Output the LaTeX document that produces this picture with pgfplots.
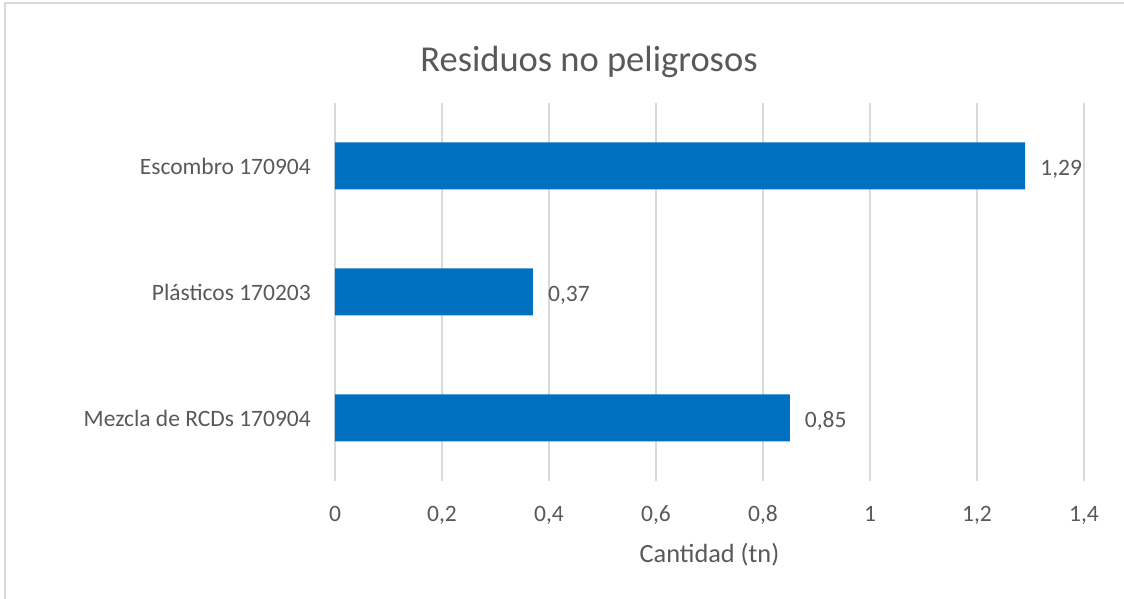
\documentclass[border=0pt]{standalone}
\usepackage{pgfplots}
\pgfplotsset{compat=1.18}
\usepackage{fontspec}
\setmainfont{Carlito}
\definecolor{barblue}{HTML}{0070C0}
\definecolor{txtgray}{HTML}{595959}
\definecolor{gridgray}{HTML}{D9D9D9}
\begin{document}
\begin{tikzpicture}
\begin{axis}[
 name=ax, at={(0,0)}, anchor=south west,
 scale only axis, width=749pt, height=378pt,
 xbar, bar width=47pt,
 xmin=0, xmax=1.4, ymin=-0.5, ymax=2.5,
 xtick={0,0.2,0.4,0.6,0.8,1,1.2,1.4},
 ytick={0,1,2},
 yticklabels={Mezcla de RCDs 170904, Plásticos 170203, Escombro 170904},
 xmajorgrids, grid style={gridgray, line width=1.3pt},
 axis line style={draw=none},
 major tick length=0pt,
 tick label style={font=\fontsize{23.5}{28}\selectfont, text=txtgray},
 /pgf/number format/use comma,
 /pgf/number format/assume math mode=true,
 xticklabel style={anchor=base, yshift=-41pt, inner sep=0pt},
 yticklabel style={anchor=east, xshift=-24pt, inner sep=0pt},
 xlabel={Cantidad (tn)},
 xlabel style={font=\fontsize{26.3}{30}\selectfont, text=txtgray, at={(axis description cs:0.5,0)}, anchor=base, yshift=-81pt, inner sep=0pt},
 point meta=x,
 nodes near coords={\pgfmathprintnumber[fixed, fixed zerofill, precision=2, use comma, assume math mode=true]{\pgfplotspointmeta}},
 nodes near coords style={font=\fontsize{23.5}{28}\selectfont, text=txtgray, anchor=west, inner sep=0pt, xshift=15pt, yshift=-3pt},
 clip=false,
]
\addplot[fill=barblue, draw=none] coordinates {(0.85,0) (0.37,1) (1.29,2)};
\end{axis}
\node[anchor=base, font=\fontsize{36.5}{40}\selectfont, text=txtgray, inner sep=0pt] at ([xshift=254pt, yshift=409pt]ax.south west) {Residuos no peligrosos};
\path[use as bounding box] ([xshift=-335pt,yshift=-118pt]ax.south west) rectangle ([xshift=789pt,yshift=481pt]ax.south west);
\draw[gridgray, line width=1.5pt] ([xshift=-330pt,yshift=-125pt]ax.south west) -- ([xshift=-330pt, yshift=478pt]ax.south west) -- ([xshift=800pt,yshift=478pt]ax.south west);
\end{tikzpicture}
\end{document}
